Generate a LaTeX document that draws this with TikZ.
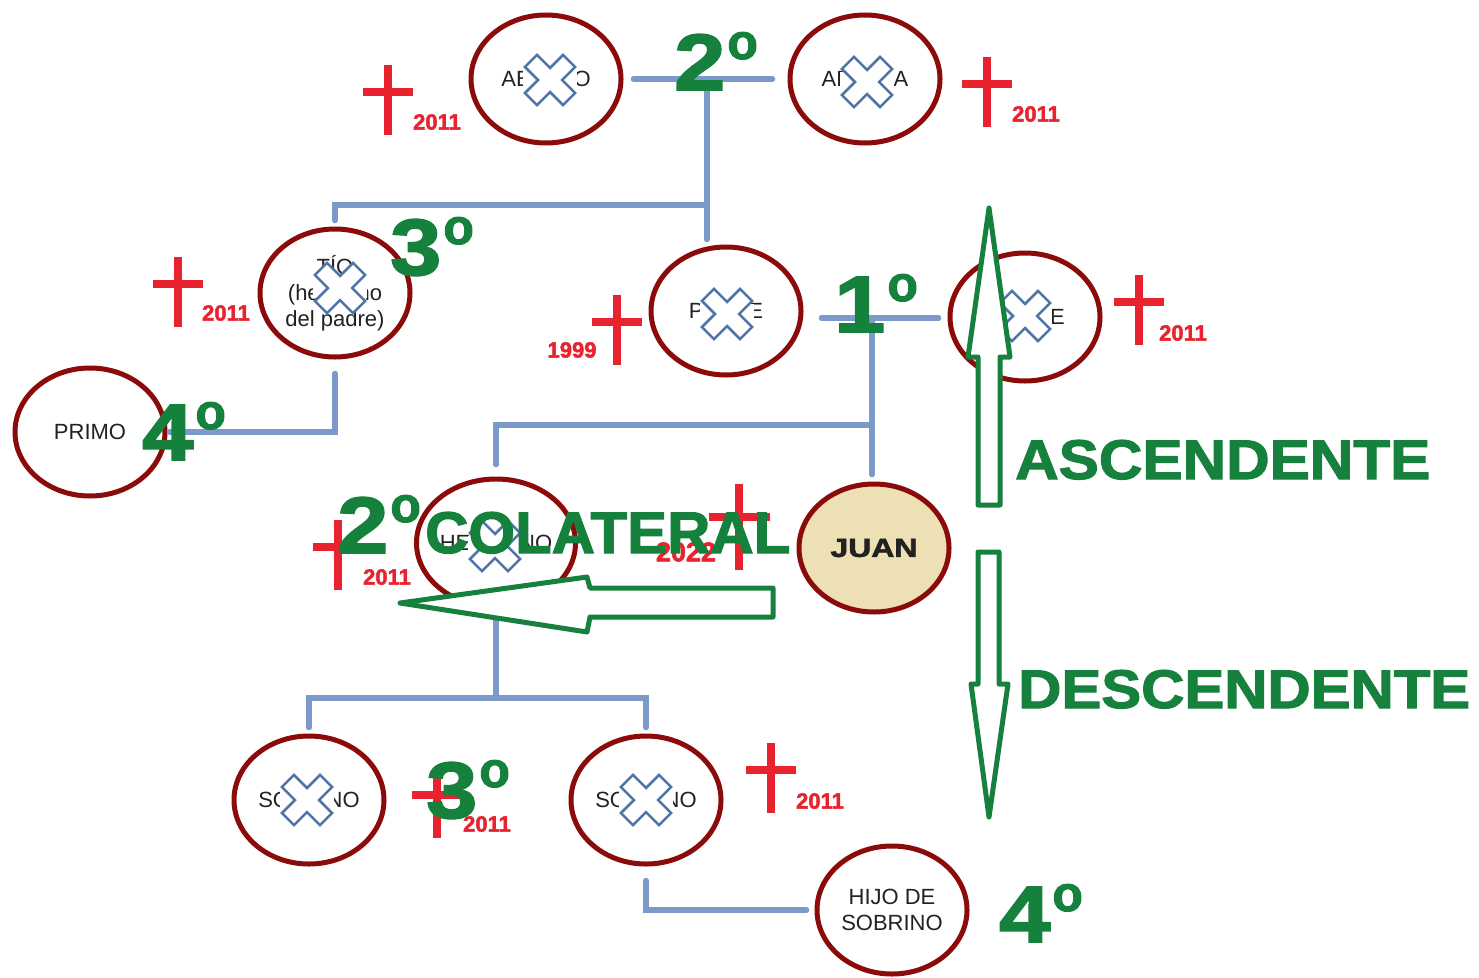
\documentclass[tikz,border=0pt]{standalone}
\usepackage{fontspec}
\setmainfont{Liberation Sans}
\newfontfamily\heavyfont{Liberation Sans}[BoldFeatures={FakeBold=2}]
\usetikzlibrary{shapes.geometric}
\definecolor{conncol}{HTML}{7B9AC9}
\definecolor{ringcol}{HTML}{8B0A0A}
\definecolor{grn}{HTML}{16803D}
\definecolor{rd}{HTML}{E8222E}
\definecolor{xblue}{HTML}{4F75A8}
\definecolor{juanfill}{HTML}{EEE0B5}
\definecolor{txt}{HTML}{222222}
\newcommand{\gradotxt}[1]{\scalebox{1.15}[1]{#1}\hspace{2pt}\raisebox{31pt}{\fontsize{50}{50}\selectfont o}}
\tikzset{
  xmark/.pic={\fill[white] (-27,-10) rectangle (27,10);
    \draw[xblue, line width=2.5pt, fill=white, line join=miter, rotate=45]
    (-8.5,-27)--(8.5,-27)--(8.5,-8.5)--(27,-8.5)--(27,8.5)--(8.5,8.5)--(8.5,27)--(-8.5,27)
    --(-8.5,8.5)--(-27,8.5)--(-27,-8.5)--(-8.5,-8.5)--cycle;},
  rcross/.pic={\draw[rd, line width=7.5pt] (0,-35)--(0,35) (-25,-8)--(25,-8);}
}
\begin{document}
\begin{tikzpicture}[x=1pt,y=-1pt,
  person/.style={ellipse, draw=ringcol, line width=5pt, minimum width=150pt, minimum height=128pt,
    inner sep=0pt, align=center, text=txt, font=\fontsize{22}{26}\selectfont},
  conn/.style={draw=conncol, line width=5.5pt, line cap=round},
  grado/.style={text=grn, anchor=base west, inner sep=0pt, font=\heavyfont\bfseries\fontsize{80}{80}\selectfont},
  bigword/.style={text=grn, anchor=base west, inner sep=0pt, font=\heavyfont\bfseries},
  year/.style={text=rd, inner sep=0pt, font=\heavyfont\bfseries\fontsize{22}{22}\selectfont},
  blockarrow/.style={draw=grn, line width=5pt, fill=white, line join=round}
]
\useasboundingbox (0,0) rectangle (1479,977);
\fill[white] (0,0) rectangle (1479,977);

% persons
\node[person] (abuelo) at (546,79) {ABUELO};
\node[person] (abuela) at (865,79) {ABUELA};
\node[person] (tio) at (335,293) {TÍO\\(hermano\\del padre)};
\node[person] (padre) at (726,311) {PADRE};
\node[person] (madre) at (1025,317) {MADRE};
\node[person] (primo) at (90,432) {PRIMO};
\node[person] (hermano) at (496,543) {HERMANO};
\node[person, fill=juanfill] (juan) at (874,548) {\resizebox{87pt}{18pt}{\heavyfont\bfseries JUAN}};
\node[person] (sob1) at (309,800) {SOBRINO};
\node[person] (sob2) at (646,800) {SOBRINO};
\node[person] (hijo) at (892,910) {HIJO DE\\SOBRINO};

% junctions
\coordinate (ja) at (707,79);
\coordinate (jb) at (707,205);
\coordinate (jc) at (872,318);
\coordinate (jd) at (872,425);
\coordinate (je) at (496,698);

% connectors
\draw[conn, shorten <=10pt, shorten >=15pt] (abuelo.east) -- (abuela.west);
\draw[conn, shorten >=5pt] (ja) -- (ja |- padre.north);
\draw[conn, shorten >=6pt] (jb) -| (tio.north);
\draw[conn, shorten <=14pt, shorten >=2pt] (tio.south) |- (primo.east);
\draw[conn, shorten <=18pt, shorten >=9pt] (padre.east |- jc) -- (madre.west |- jc);
\draw[conn, shorten >=7pt] (jc) -- (jc |- juan.north);
\draw[conn, shorten >=12pt] (jd) -| (hermano.north);
\draw[conn] (hermano.south) -- (je);
\draw[conn, shorten >=6pt] (je) -| (sob1.north);
\draw[conn, shorten >=6pt] (je) -| (sob2.north);
\draw[conn, shorten <=14pt, shorten >=8pt] (sob2.south) |- (hijo.west);

% deceased marks
\pic at (550,80) {xmark};
\pic at (867,82) {xmark};
\pic at (340,288) {xmark};
\pic at (727,314) {xmark};
\pic at (1025,316) {xmark};
\pic at (495,546) {xmark};
\pic at (307,800) {xmark};
\pic at (646,800) {xmark};

% red crosses and years
\pic at (388,100) {rcross};
\node[year] (y1) at (437,122) {2011};
\pic at (987,92) {rcross};
\node[year] (y2) at (1036,114) {2011};
\pic at (178,292) {rcross};
\node[year] (y3) at (226,313) {2011};
\pic at (617,330) {rcross};
\node[year] (y4) at (572,350) {1999};
\pic at (1139,310) {rcross};
\node[year] (y5) at (1183,333) {2011};
\pic at (338,555) {rcross};
\node[year] (y6) at (387,577) {2011};
\pic[scale=1.22] at (739,527) {rcross};
\node[year, font=\heavyfont\bfseries\fontsize{27}{27}\selectfont] (y7) at (686,552) {2022};
\pic at (437,803) {rcross};
\node[year] (y8) at (487,824) {2011};
\pic at (771,778) {rcross};
\node[year] (y9) at (820,801) {2011};

% block arrows
\draw[blockarrow] (978,505)--(978,357)--(968,357)--(989,208)--(1010,357)--(1000,357)--(1000,505)--cycle;
\draw[blockarrow] (978,552)--(999,552)--(999,684)--(1008,684)--(989,817)--(971,684)--(978,684)--cycle;
\draw[blockarrow] (773,588)--(590,588)--(587,577)--(400,603)--(587,632)--(590,617)--(773,617)--cycle;

% degree labels
\node[grado] (g1) at (674,90) {\gradotxt{2}};
\node[grado] (g2) at (390,275) {\gradotxt{3}};
\node[grado] (g3) at (834,332) {\gradotxt{1}};
\node[grado] (g4) at (142,460) {\gradotxt{4}};
\node[grado] (g5) at (337,553) {\gradotxt{2}};
\node[grado] (g6) at (426,818) {\gradotxt{3}};
\node[grado] (g7) at (999,942) {\gradotxt{4}};

% words
\node[bigword] (colateral) at (425,553) {\resizebox{365pt}{41pt}{COLATERAL}};
\node[bigword] (ascendente) at (1015,479) {\resizebox{415pt}{39pt}{ASCENDENTE}};
\node[bigword] (descendente) at (1018,708) {\resizebox{452pt}{38pt}{DESCENDENTE}};
\end{tikzpicture}
\end{document}
